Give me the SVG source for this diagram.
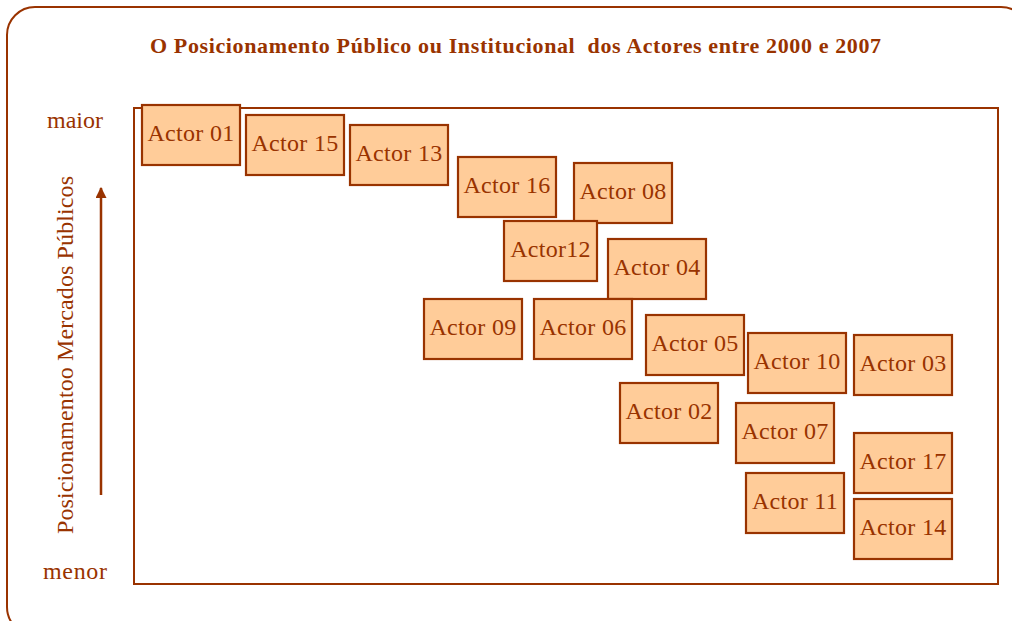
<svg xmlns="http://www.w3.org/2000/svg" width="1012" height="621" viewBox="0 0 1012 621">
<defs>
<style>
.frame{fill:none;stroke:#993300;stroke-width:2}
.box{fill:#FFCC99;stroke:#993300;stroke-width:2.2}
.lbl{font-family:"Liberation Serif","DejaVu Serif",serif;font-size:24px;fill:#993300;text-anchor:middle;letter-spacing:0.3px}
.axis{font-family:"Liberation Serif","DejaVu Serif",serif;font-size:24px;fill:#993300}
.title{font-family:"Liberation Serif","DejaVu Serif",serif;font-size:22px;font-weight:bold;fill:#993300}
</style>
<marker id="ah" viewBox="0 0 10 10" refX="9" refY="5" markerWidth="11" markerHeight="11" markerUnits="userSpaceOnUse" orient="auto">
<path d="M0,0 L10,5 L0,10 Z" fill="#993300"/>
</marker>
</defs>
<rect x="0" y="0" width="1012" height="621" fill="#ffffff"/>
<rect class="frame" x="7" y="7" width="1022" height="628" rx="28" ry="28"/>
<text class="title" x="150" y="53" textLength="731" lengthAdjust="spacing" xml:space="preserve">O Posicionamento Público ou Institucional  dos Actores entre 2000 e 2007</text>
<rect class="frame" x="134" y="108" width="864" height="476" stroke-width="2"/>
<text class="axis" x="47" y="128" textLength="56" lengthAdjust="spacing">maior</text>
<text class="axis" x="43" y="579" textLength="64" lengthAdjust="spacing">menor</text>
<text class="axis" transform="translate(73,534) rotate(-90)" x="0" y="0" textLength="358" lengthAdjust="spacing">Posicionamentoo Mercados Públicos</text>
<g id="connectors">
<line x1="101" y1="495" x2="101" y2="188" stroke="#993300" stroke-width="2.5" marker-end="url(#ah)"/>
</g>
<g id="actor01"><rect class="box" x="142" y="105" width="98" height="60"/><text class="lbl" x="191" y="141">Actor 01</text></g>
<g id="actor15"><rect class="box" x="246" y="115" width="98" height="60"/><text class="lbl" x="295" y="151">Actor 15</text></g>
<g id="actor13"><rect class="box" x="350" y="125" width="98" height="60"/><text class="lbl" x="399" y="161">Actor 13</text></g>
<g id="actor16"><rect class="box" x="458" y="157" width="98" height="60"/><text class="lbl" x="507" y="193">Actor 16</text></g>
<g id="actor08"><rect class="box" x="574" y="163" width="98" height="60"/><text class="lbl" x="623" y="199">Actor 08</text></g>
<g id="actor12"><rect class="box" x="504" y="221" width="93" height="60"/><text class="lbl" x="550.5" y="257">Actor12</text></g>
<g id="actor04"><rect class="box" x="608" y="239" width="98" height="60"/><text class="lbl" x="657" y="275">Actor 04</text></g>
<g id="actor09"><rect class="box" x="424" y="299" width="98" height="60"/><text class="lbl" x="473" y="335">Actor 09</text></g>
<g id="actor06"><rect class="box" x="534" y="299" width="98" height="60"/><text class="lbl" x="583" y="335">Actor 06</text></g>
<g id="actor05"><rect class="box" x="646" y="315" width="98" height="60"/><text class="lbl" x="695" y="351">Actor 05</text></g>
<g id="actor10"><rect class="box" x="748" y="333" width="98" height="60"/><text class="lbl" x="797" y="369">Actor 10</text></g>
<g id="actor03"><rect class="box" x="854" y="335" width="98" height="60"/><text class="lbl" x="903" y="371">Actor 03</text></g>
<g id="actor02"><rect class="box" x="620" y="383" width="98" height="60"/><text class="lbl" x="669" y="419">Actor 02</text></g>
<g id="actor07"><rect class="box" x="736" y="403" width="98" height="60"/><text class="lbl" x="785" y="439">Actor 07</text></g>
<g id="actor17"><rect class="box" x="854" y="433" width="98" height="60"/><text class="lbl" x="903" y="469">Actor 17</text></g>
<g id="actor11"><rect class="box" x="746" y="473" width="98" height="60"/><text class="lbl" x="795" y="509">Actor 11</text></g>
<g id="actor14"><rect class="box" x="854" y="499" width="98" height="60"/><text class="lbl" x="903" y="535">Actor 14</text></g>
</svg>
